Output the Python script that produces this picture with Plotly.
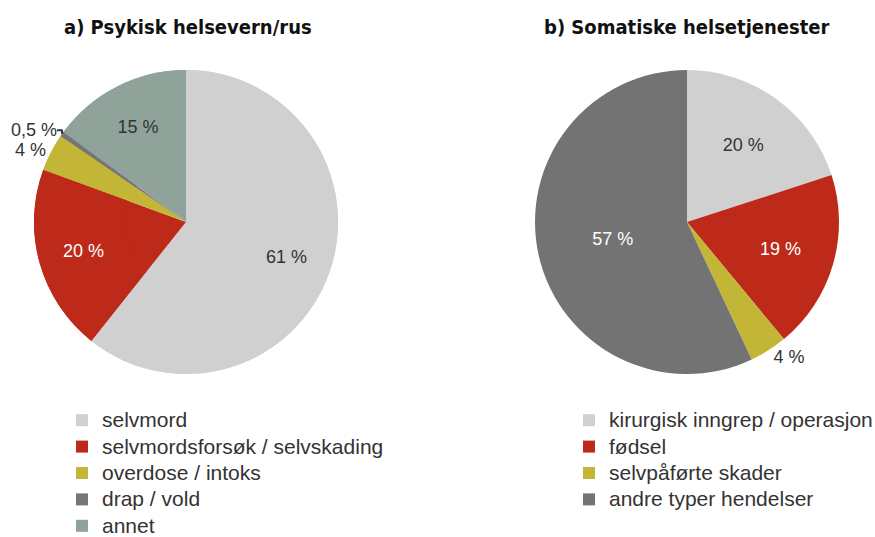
import plotly.graph_objects as go

# Data
labels_a = ["selvmord", "selvmordsforsøk / selvskading", "overdose / intoks", "drap / vold", "annet"]
values_a = [61, 20, 4, 0.5, 15]
colors_a = ["#D0D0D0", "#BD2A1A", "#C3B536", "#767676", "#8FA39A"]
textcolor_a = ["#333333", "#FFFFFF", "#333333", "#333333", "#333333"]
textpos_a = ["inside", "inside", "outside", "outside", "inside"]

labels_b = ["kirurgisk inngrep / operasjon", "fødsel", "selvpåførte skader", "andre typer hendelser"]
values_b = [20, 19, 4, 57]
colors_b = ["#D0D0D0", "#BD2A1A", "#C3B536", "#737373"]
textcolor_b = ["#333333", "#FFFFFF", "#333333", "#FFFFFF"]
textpos_b = ["inside", "inside", "outside", "inside"]

titles = ["a) Psykisk helsevern/rus", "b) Somatiske helsetjenester"]

W, H = 875, 537
FONT = "Liberation Sans, Arial, sans-serif"
TITLE_FONT = "DejaVu Sans Condensed, Liberation Sans Narrow, Arial Narrow, sans-serif"


def fmt(v):
    return (f"{v:g} %").replace(".", ",")


def leg(lbl):
    return f'<span style="font-size:21px">{lbl}</span>'


def dom(cx, cy, r):
    return dict(x=[(cx - r) / W, (cx + r) / W], y=[1 - (cy + r) / H, 1 - (cy - r) / H])


dom_a = dom(186, 222, 152)
dom_b = dom(687, 222, 152)

fig = go.Figure()
# solid base of pie a (no text, no legend)
fig.add_trace(go.Pie(
    labels=labels_a, values=values_a, textinfo="none", sort=False,
    direction="clockwise", rotation=0, marker=dict(colors=colors_a, line=dict(width=0)),
    domain=dom_a, showlegend=False, hoverinfo="skip",
))
# ring of pie a carrying labels and legend (labels sit mid-ring)
fig.add_trace(go.Pie(
    labels=[leg(l) for l in labels_a], values=values_a, text=[fmt(v) for v in values_a],
    textinfo="text", sort=False, direction="clockwise", rotation=0, hole=0.4,
    marker=dict(colors=colors_a, line=dict(width=0)),
    textposition=textpos_a, insidetextorientation="horizontal",
    insidetextfont=dict(color=textcolor_a, size=18, family=FONT),
    outsidetextfont=dict(color="#333333", size=18, family=FONT),
    domain=dom_a, legend="legend", hoverinfo="label+percent",
))
fig.add_trace(go.Pie(
    labels=[leg(l) for l in labels_b], values=values_b, text=[fmt(v) for v in values_b],
    textinfo="text", sort=False, direction="clockwise", rotation=0,
    marker=dict(colors=colors_b, line=dict(width=0)),
    textposition=textpos_b, insidetextorientation="horizontal",
    insidetextfont=dict(color=textcolor_b, size=18, family=FONT),
    outsidetextfont=dict(color="#333333", size=18, family=FONT),
    domain=dom_b, legend="legend2", hoverinfo="label+percent",
))

legend_common = dict(font=dict(size=18, family=FONT, color="#333333"),
                     xanchor="left", yanchor="top", bgcolor="rgba(0,0,0,0)",
                     itemclick=False, itemdoubleclick=False, tracegroupgap=0)
fig.update_layout(
    width=W, height=H, margin=dict(l=0, r=0, t=0, b=0, autoexpand=False),
    paper_bgcolor="white", plot_bgcolor="white",
    font=dict(family=FONT, color="#333333"),
    legend=dict(x=62 / W, y=1 - 402 / H, **legend_common),
    legend2=dict(x=569 / W, y=1 - 402 / H, **legend_common),
    annotations=[
        dict(text=f"<b>{titles[0]}</b>", x=188 / W, y=1 - 27 / H, xref="paper", yref="paper",
             xanchor="center", yanchor="middle", showarrow=False,
             font=dict(size=20, family=TITLE_FONT, color="#111111")),
        dict(text=f"<b>{titles[1]}</b>", x=687 / W, y=1 - 27 / H, xref="paper", yref="paper",
             xanchor="center", yanchor="middle", showarrow=False,
             font=dict(size=20, family=TITLE_FONT, color="#111111")),
    ],
)
fig.write_html("out.html", config=dict(displayModeBar=False),
               post_script="document.body.style.margin='0';document.body.style.overflow='hidden';")
